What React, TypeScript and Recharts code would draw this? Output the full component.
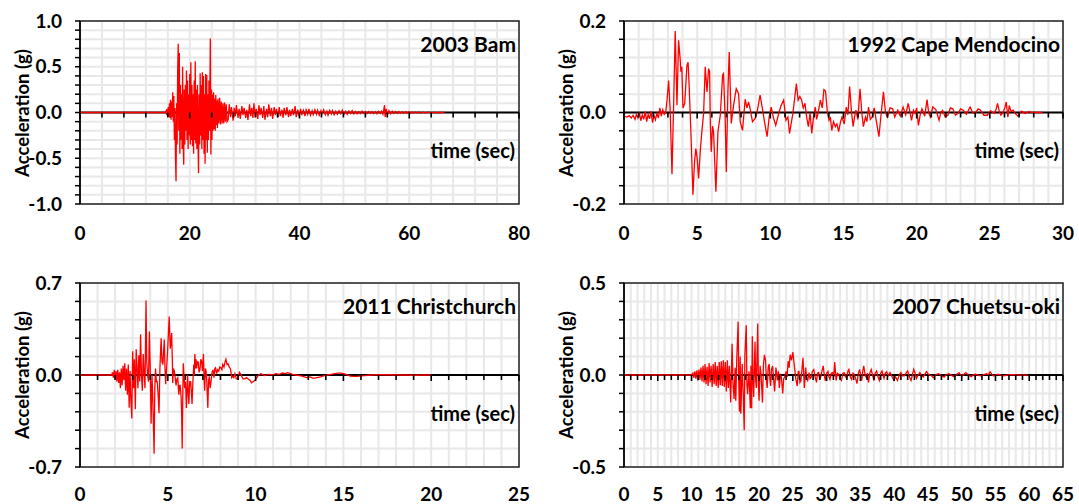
import React from 'react';
import { LineChart, Line, XAxis, YAxis, CartesianGrid, ReferenceLine, ReferenceArea } from 'recharts';

type Rec = [number, number][];

// acceleration records, [time (s), acceleration (g)]
const bamRecord: Rec = [
  [0, 0], [15.5, 0], [15.7, 0.02], [15.8, -0.03], [15.9, 0.04], [16.0, -0.04], [16.1, 0.06], [16.2, -0.05],
  [16.3, 0.1], [16.4, -0.06], [16.5, 0.14], [16.6, -0.08], [16.7, 0.12], [16.8, -0.05], [16.9, 0.22], [17.0, -0.1],
  [17.1, 0.18], [17.2, -0.3], [17.3, 0.05], [17.4, -0.5], [17.5, -0.75], [17.6, 0.1], [17.7, -0.35], [17.8, 0.45],
  [17.9, 0.75], [18.0, -0.2], [18.1, 0.65], [18.2, -0.45], [18.3, 0.3], [18.4, -0.3], [18.5, 0.2], [18.6, -0.4],
  [18.7, 0.5], [18.8, -0.3], [18.9, -0.57], [19.0, 0.25], [19.1, -0.35], [19.2, 0.3], [19.3, -0.2], [19.4, 0.46],
  [19.5, -0.3], [19.6, 0.35], [19.7, -0.4], [19.8, 0.2], [19.9, -0.25], [20.0, 0.42], [20.1, -0.35], [20.2, 0.55],
  [20.3, -0.3], [20.4, 0.3], [20.5, -0.37], [20.6, 0.2], [20.7, -0.45], [20.8, 0.35], [20.9, -0.3], [21.0, 0.56],
  [21.1, -0.34], [21.2, 0.25], [21.3, -0.4], [21.4, 0.3], [21.5, -0.3], [21.6, -0.66], [21.7, 0.2], [21.8, -0.35],
  [21.9, 0.43], [22.0, -0.25], [22.1, 0.3], [22.2, -0.4], [22.3, 0.44], [22.4, -0.3], [22.5, 0.4], [22.6, -0.45],
  [22.7, 0.2], [22.8, -0.56], [22.9, 0.42], [23.0, -0.3], [23.1, 0.41], [23.2, -0.44], [23.3, 0.2], [23.4, -0.3],
  [23.5, 0.35], [23.6, -0.2], [23.75, 0.81], [23.85, -0.46], [23.95, 0.25], [24.05, -0.3], [24.15, 0.2], [24.25, -0.2],
  [24.35, 0.22], [24.45, -0.18], [24.55, 0.15], [24.65, -0.2], [24.75, 0.19], [24.85, -0.14], [24.95, 0.13], [25.05, -0.17],
  [25.15, 0.15], [25.3, -0.12], [25.45, 0.16], [25.6, -0.13], [25.75, 0.12], [25.9, -0.12], [26.05, 0.1], [26.2, -0.12],
  [26.35, 0.11], [26.5, -0.1], [26.65, 0.09], [26.8, -0.1], [27.0, -0.08], [27.2, 0.09], [27.45, -0.05], [27.6, 0.06],
  [27.9, -0.09], [28.1, 0.05], [28.3, -0.04], [28.5, 0.08], [28.8, -0.06], [29.0, 0.04], [29.2, -0.07], [29.5, 0.07],
  [29.7, -0.03], [29.9, 0.05], [30.2, -0.06], [30.4, 0.03], [30.6, -0.08], [30.9, 0.09], [31.1, -0.04], [31.3, 0.05],
  [31.5, -0.06], [31.7, 0.1], [31.9, -0.05], [32.1, 0.04], [32.4, -0.07], [32.6, 0.08], [32.8, -0.03], [33.0, 0.05],
  [33.3, -0.06], [33.5, 0.07], [33.7, -0.08], [34.0, 0.04], [34.2, -0.05], [34.4, 0.09], [34.7, -0.04], [34.9, 0.05],
  [35.1, -0.07], [35.4, 0.06], [35.6, -0.03], [35.8, 0.04], [36.1, -0.05], [36.3, 0.06], [36.5, -0.04], [36.8, 0.03],
  [37.0, -0.06], [37.2, 0.05], [37.5, -0.03], [37.7, 0.06], [38.0, -0.05], [38.2, 0.03], [38.4, -0.04], [38.7, 0.04],
  [38.9, -0.03], [39.2, 0.07], [39.4, -0.05], [39.7, 0.03], [39.9, -0.04], [40.2, 0.04], [40.4, -0.03], [40.7, 0.025],
  [41.0, -0.04], [41.2, 0.03], [41.5, -0.02], [41.7, 0.04], [42.0, -0.03], [42.3, 0.02], [42.5, -0.025], [42.8, 0.03],
  [43.1, -0.02], [43.3, 0.025], [43.6, -0.03], [43.9, 0.02], [44.1, -0.015], [44.4, 0.03], [44.7, -0.025], [45.0, 0.015],
  [45.2, -0.03], [45.5, 0.025], [45.8, -0.015], [46.0, 0.02], [46.3, -0.025], [46.6, 0.015], [46.9, -0.02], [47.2, 0.02],
  [47.5, -0.015], [47.8, 0.025], [48.1, -0.02], [48.4, 0.012], [48.7, -0.02], [49.0, 0.015], [49.3, -0.012], [49.6, 0.02],
  [49.9, -0.015], [50.2, 0.012], [50.5, -0.015], [50.8, 0.01], [51.1, -0.012], [51.4, 0.015], [51.7, -0.01], [52.0, 0.01],
  [52.3, -0.012], [52.6, 0.012], [52.9, -0.008], [53.2, 0.012], [53.5, -0.012], [53.8, 0.01], [54.1, -0.015], [54.4, 0.012],
  [54.7, -0.01], [54.95, 0.015], [55.2, -0.02], [55.5, 0.08], [55.6, -0.05], [55.8, 0.04], [56.0, -0.03], [56.3, 0.02],
  [56.6, -0.015], [56.9, 0.015], [57.2, -0.01], [57.5, 0.012], [57.8, -0.01], [58.1, 0.01], [58.4, -0.01], [58.7, 0.008],
  [59.0, -0.01], [59.3, 0.008], [59.6, -0.008], [59.9, 0.01], [60.2, -0.008], [60.5, 0.006], [60.8, -0.006], [61.1, 0.006],
  [61.4, -0.005], [61.7, 0.005], [62.0, -0.005], [62.5, 0.004], [63.0, -0.004], [63.5, 0.003], [64.0, -0.003], [64.5, 0.002],
  [65.0, -0.002], [65.5, 0.001], [66.4, 0],
];

const capeMendocinoRecord: Rec = [
  [0, -0.008], [0.2, -0.01], [0.35, -0.007], [0.5, -0.012], [0.62, -0.006], [0.75, -0.015], [0.85, -0.004], [0.95, -0.012],
  [1.05, 0.0], [1.15, -0.018], [1.25, -0.005], [1.35, -0.015], [1.45, 0.002], [1.55, -0.02], [1.65, -0.004], [1.75, -0.014],
  [1.85, 0.003], [1.95, -0.022], [2.05, -0.006], [2.15, -0.016], [2.25, -0.002], [2.35, -0.012], [2.45, 0.01], [2.55, -0.008],
  [2.65, 0.006], [2.75, -0.004], [2.85, 0.0], [2.95, 0.03], [3.05, 0.07], [3.15, 0.01], [3.28, -0.135], [3.4, 0.03],
  [3.5, 0.178], [3.62, 0.016], [3.73, 0.158], [3.83, 0.12], [3.89, 0.089], [3.95, 0.1], [4.03, 0.01], [4.15, 0.02],
  [4.3, 0.103], [4.38, 0.11], [4.45, 0.06], [4.58, -0.05], [4.71, -0.18], [4.82, -0.108], [4.91, -0.079], [5.0, -0.1],
  [5.1, -0.144], [5.22, -0.08], [5.32, -0.042], [5.44, -0.002], [5.55, 0.1], [5.67, 0.045], [5.78, 0.096], [5.85, 0.089],
  [5.9, -0.024], [5.96, -0.086], [6.05, -0.03], [6.12, -0.042], [6.28, -0.173], [6.42, -0.042], [6.58, -0.006], [6.74, 0.082],
  [6.8, 0.085], [6.92, -0.02], [6.99, -0.13], [7.1, 0.045], [7.19, 0.132], [7.33, -0.024], [7.49, 0.016], [7.67, 0.052],
  [7.83, 0.041], [7.94, -0.02], [8.1, -0.039], [8.28, 0.029], [8.4, 0.01], [8.51, 0.023], [8.62, 0.008], [8.78, -0.02],
  [8.96, -0.013], [9.08, -0.002], [9.3, 0.038], [9.45, 0.01], [9.6, -0.02], [9.78, -0.053], [9.92, -0.01], [10.06, 0.012],
  [10.2, -0.01], [10.37, -0.028], [10.55, -0.005], [10.72, 0.014], [10.91, 0.027], [11.07, -0.017], [11.2, -0.01], [11.31, -0.046],
  [11.54, -0.002], [11.66, 0.03], [11.78, 0.063], [11.9, 0.027], [12.02, 0.035], [12.13, 0.028], [12.25, 0.01], [12.37, 0.02],
  [12.48, -0.01], [12.6, -0.031], [12.72, 0.0], [12.83, -0.046], [12.95, -0.01], [13.07, 0.012], [13.16, -0.015], [13.26, -0.002],
  [13.42, 0.027], [13.55, 0.01], [13.66, 0.05], [13.77, 0.047], [13.9, 0.0], [14.01, -0.017], [14.1, -0.01], [14.2, -0.039],
  [14.32, -0.02], [14.44, -0.031], [14.55, -0.025], [14.67, -0.042], [14.8, -0.02], [14.9, -0.01], [15.05, -0.025], [15.19, 0.012],
  [15.3, -0.005], [15.42, 0.057], [15.55, 0.0], [15.66, -0.031], [15.75, -0.01], [15.85, 0.005], [15.98, -0.015], [16.13, 0.052],
  [16.25, 0.0], [16.36, -0.031], [16.5, -0.01], [16.6, -0.02], [16.71, 0.012], [16.83, -0.015], [16.95, -0.01], [17.1, 0.01],
  [17.25, -0.02], [17.42, -0.053], [17.58, 0.0], [17.73, 0.045], [17.87, 0.0], [18.01, -0.01], [18.18, 0.01], [18.36, 0.008],
  [18.5, -0.01], [18.71, 0.005], [18.88, -0.008], [19.07, 0.012], [19.25, -0.005], [19.42, 0.02], [19.55, 0.0], [19.65, -0.017],
  [19.78, 0.005], [19.89, -0.002], [20.0, 0.01], [20.12, -0.028], [20.24, -0.005], [20.36, 0.008], [20.55, -0.008], [20.71, 0.028],
  [20.82, 0.0], [20.94, -0.01], [21.1, 0.012], [21.3, 0.007], [21.42, -0.005], [21.53, -0.017], [21.65, 0.0], [21.77, 0.005],
  [21.95, -0.01], [22.13, -0.006], [22.3, 0.01], [22.47, 0.008], [22.65, -0.006], [22.83, -0.002], [23.0, 0.008], [23.18, 0.005],
  [23.4, -0.004], [23.65, 0.012], [23.82, 0.0], [24.0, -0.002], [24.2, 0.008], [24.36, 0.005], [24.6, -0.006], [24.83, -0.006],
  [25.05, 0.004], [25.29, -0.002], [25.42, 0.006], [25.53, 0.02], [25.65, 0.002], [25.76, -0.006], [25.9, 0.0], [26.04, 0.012],
  [26.12, 0.023], [26.23, -0.01], [26.33, 0.015], [26.45, 0.002], [26.59, 0.005], [26.75, -0.003], [26.94, -0.008], [27.15, 0.003],
  [27.41, -0.002], [27.65, 0.002], [27.88, 0], [28.59, 0],
];

const christchurchRecord: Rec = [
  [0, 0], [1.8, 0], [1.85, 0.02], [1.9, -0.02], [1.95, 0.04], [2.0, -0.03], [2.05, 0.03], [2.1, -0.05],
  [2.15, 0.04], [2.2, -0.06], [2.25, 0.02], [2.3, -0.1], [2.35, 0.05], [2.4, -0.08], [2.45, 0.07], [2.5, -0.04],
  [2.55, 0.09], [2.6, -0.12], [2.65, 0.05], [2.7, -0.15], [2.75, 0.08], [2.8, -0.25], [2.85, 0.03], [2.9, -0.2],
  [2.95, -0.33], [3.0, 0.18], [3.05, -0.1], [3.1, 0.12], [3.15, -0.26], [3.2, 0.195], [3.25, 0.05], [3.3, -0.1],
  [3.35, 0.15], [3.4, -0.05], [3.45, 0.31], [3.5, 0.0], [3.55, -0.12], [3.6, 0.16], [3.65, 0.02], [3.7, -0.1],
  [3.76, 0.566], [3.8, 0.1], [3.85, 0.0], [3.9, -0.05], [3.95, 0.33], [4.0, 0.05], [4.05, -0.37], [4.1, 0.0],
  [4.15, -0.2], [4.22, -0.6], [4.26, -0.1], [4.3, 0.05], [4.35, -0.05], [4.4, -0.05], [4.45, -0.15], [4.5, -0.29],
  [4.55, 0.05], [4.62, 0.28], [4.67, 0.1], [4.72, 0.08], [4.77, 0.2], [4.8, 0.27], [4.84, 0.05], [4.88, -0.07],
  [4.93, 0.05], [4.98, 0.16], [5.03, 0.3], [5.08, 0.445], [5.14, 0.2], [5.18, 0.25], [5.22, 0.32], [5.26, 0.1],
  [5.28, -0.06], [5.32, 0.05], [5.37, 0.03], [5.42, -0.02], [5.47, -0.08], [5.52, -0.03], [5.57, -0.02], [5.6, -0.1],
  [5.63, -0.15], [5.67, -0.08], [5.7, -0.08], [5.73, -0.12], [5.76, -0.17], [5.79, -0.3], [5.82, -0.56], [5.85, -0.2],
  [5.88, 0.09], [5.92, 0.0], [5.96, -0.1], [6.01, -0.05], [6.06, -0.25], [6.1, -0.1], [6.13, 0.0], [6.17, -0.15],
  [6.2, -0.22], [6.25, -0.05], [6.3, -0.05], [6.34, -0.12], [6.38, -0.22], [6.43, -0.05], [6.48, 0.08], [6.51, 0.0],
  [6.54, 0.16], [6.58, 0.05], [6.61, 0.12], [6.64, 0.05], [6.68, 0.1], [6.73, 0.1], [6.78, 0.02], [6.83, 0.04],
  [6.88, 0.12], [6.93, 0.1], [6.97, 0.03], [7.03, 0.16], [7.06, 0.0], [7.1, -0.12], [7.14, 0.05], [7.18, 0.03],
  [7.22, -0.05], [7.28, -0.25], [7.32, -0.05], [7.36, -0.01], [7.41, -0.1], [7.46, -0.05], [7.52, 0.02], [7.58, 0.04],
  [7.63, -0.02], [7.68, 0.05], [7.72, 0.055], [7.78, 0.01], [7.84, 0.04], [7.9, 0.03], [7.96, 0.06], [8.02, 0.055],
  [8.08, 0.04], [8.13, 0.08], [8.2, 0.06], [8.26, 0.1], [8.31, 0.12], [8.37, 0.08], [8.44, 0.085], [8.5, 0.06],
  [8.56, 0.05], [8.6, 0.02], [8.64, -0.02], [8.7, -0.01], [8.76, -0.02], [8.82, 0.01], [8.9, -0.03], [8.99, -0.03],
  [9.08, 0.02], [9.18, 0.0], [9.28, -0.03], [9.38, -0.03], [9.48, -0.02], [9.58, -0.03], [9.68, -0.04], [9.77, -0.06],
  [9.87, -0.05], [9.97, -0.04], [10.07, -0.02], [10.17, 0.0], [10.3, 0.01], [10.5, -0.005], [10.75, 0.005], [11.0, 0.0],
  [11.14, 0.01], [11.35, 0.005], [11.53, 0.015], [11.7, 0.01], [11.83, 0.018], [12.0, 0.01], [12.1, 0.005], [12.3, 0.0],
  [12.5, -0.005], [12.7, -0.01], [12.9, -0.02], [13.1, -0.015], [13.3, -0.025], [13.5, -0.02], [13.7, -0.015], [13.9, -0.005],
  [14.1, 0.0], [14.3, 0.005], [14.5, 0.01], [14.7, 0.015], [14.86, 0.015], [15.0, 0.01], [15.15, 0.005], [15.4, -0.008],
  [15.6, -0.01], [15.8, -0.01], [16.0, -0.006], [16.2, -0.005], [16.6, 0.0], [17.0, 0.003], [17.5, 0.002], [18.0, 0.0],
  [18.5, 0.0], [19.0, -0.002], [19.5, 0.0], [20.0, 0.0],
];

const chuetsuOkiRecord: Rec = [
  [0, 0], [10.0, 0], [10.2, 0.01], [10.35, -0.015], [10.5, 0.02], [10.65, -0.02], [10.8, 0.025], [10.95, -0.03],
  [11.1, 0.03], [11.25, -0.025], [11.4, 0.04], [11.55, -0.035], [11.7, 0.05], [11.85, -0.04], [12.0, 0.06], [12.15, -0.05],
  [12.3, 0.045], [12.45, -0.06], [12.6, 0.065], [12.75, -0.04], [12.9, 0.05], [13.05, -0.065], [13.2, 0.06], [13.35, -0.05],
  [13.5, 0.07], [13.65, -0.06], [13.8, 0.05], [13.95, -0.07], [14.1, 0.07], [14.25, -0.055], [14.4, 0.075], [14.55, -0.06],
  [14.7, 0.08], [14.85, -0.065], [15.0, 0.07], [15.15, -0.09], [15.3, 0.08], [15.45, -0.07], [15.6, 0.05], [15.8, -0.15],
  [16.0, 0.17], [16.15, -0.05], [16.3, -0.13], [16.45, 0.04], [16.55, -0.14], [16.7, 0.09], [16.9, 0.29], [17.0, -0.05],
  [17.1, -0.2], [17.2, 0.1], [17.3, -0.21], [17.5, 0.06], [17.65, -0.1], [17.8, -0.3], [17.9, 0.11], [18.1, 0.27],
  [18.2, -0.05], [18.3, -0.105], [18.5, 0.02], [18.6, -0.08], [18.7, -0.18], [18.8, 0.05], [18.9, -0.18], [19.0, 0.21],
  [19.1, -0.02], [19.2, -0.12], [19.4, 0.18], [19.5, -0.03], [19.6, -0.07], [19.7, 0.1], [19.8, 0.28], [19.9, -0.05],
  [20.0, -0.14], [20.15, 0.05], [20.3, 0.0], [20.5, -0.15], [20.65, 0.06], [20.8, 0.11], [20.95, 0.08], [21.1, -0.03],
  [21.2, -0.07], [21.35, 0.04], [21.5, 0.06], [21.6, -0.02], [21.7, -0.06], [21.85, 0.03], [22.0, 0.05], [22.15, -0.02],
  [22.3, -0.09], [22.5, 0.04], [22.7, -0.03], [22.85, 0.02], [23.0, -0.07], [23.15, 0.0], [23.3, -0.01], [23.5, -0.1],
  [23.65, -0.02], [23.8, -0.01], [24.0, 0.02], [24.15, -0.01], [24.3, 0.075], [24.45, 0.04], [24.6, 0.11], [24.8, 0.08],
  [25.0, 0.125], [25.25, 0.04], [25.45, -0.024], [25.65, -0.06], [25.8, 0.02], [25.9, 0.02], [26.05, -0.04], [26.2, -0.03],
  [26.35, 0.03], [26.5, 0.094], [26.7, -0.07], [26.9, 0.04], [27.05, -0.02], [27.2, -0.03], [27.4, 0.013], [27.55, -0.02],
  [27.7, -0.015], [27.9, 0.02], [28.1, 0.03], [28.3, -0.01], [28.5, -0.04], [28.65, 0.01], [28.8, 0.013], [28.95, -0.02],
  [29.1, -0.015], [29.3, 0.02], [29.5, 0.05], [29.65, 0.0], [29.8, -0.03], [30.0, 0.01], [30.2, 0.02], [30.35, -0.01],
  [30.5, -0.024], [30.7, 0.01], [30.9, 0.013], [31.05, -0.01], [31.2, 0.07], [31.4, -0.03], [31.6, 0.01], [31.8, 0.004],
  [32.0, -0.02], [32.2, -0.03], [32.4, 0.01], [32.6, 0.013], [32.8, -0.01], [33.0, -0.015], [33.15, 0.02], [33.3, 0.03],
  [33.5, -0.01], [33.7, -0.024], [33.9, 0.01], [34.1, 0.004], [34.3, -0.02], [34.5, -0.047], [34.7, 0.01], [34.9, 0.03],
  [35.05, -0.01], [35.2, -0.03], [35.35, 0.02], [35.5, 0.05], [35.7, 0.0], [35.9, -0.015], [36.05, 0.01], [36.2, -0.04],
  [36.4, 0.01], [36.6, 0.03], [36.8, 0.0], [37.0, -0.03], [37.2, 0.01], [37.4, 0.022], [37.6, -0.01], [37.8, -0.029],
  [38.0, 0.01], [38.2, 0.022], [38.35, 0.0], [38.5, -0.018], [38.7, 0.01], [38.9, 0.018], [39.1, -0.005], [39.4, 0.013],
  [39.7, -0.01], [39.95, -0.029], [40.2, -0.01], [40.5, -0.029], [40.75, 0.0], [41.0, 0.013], [41.25, -0.005], [41.5, -0.005],
  [41.75, 0.01], [42.0, 0.022], [42.25, -0.01], [42.5, -0.03], [42.7, 0.0], [42.9, 0.031], [43.1, 0.01], [43.3, -0.018],
  [43.55, 0.0], [43.8, 0.013], [44.05, -0.005], [44.3, -0.011], [44.55, 0.005], [44.8, 0.018], [45.05, 0.005], [45.3, 0.0],
  [45.55, -0.005], [45.8, -0.015], [46.2, 0.002], [46.6, 0.007], [47.0, -0.005], [47.4, -0.011], [47.75, 0.003], [48.1, 0.007],
  [48.5, -0.002], [48.9, -0.011], [49.25, 0.003], [49.6, 0.013], [49.85, 0.0], [50.1, -0.005], [50.35, 0.004], [50.6, 0.013],
  [51.0, 0.0], [51.4, -0.009], [51.75, 0.002], [52.1, 0.004], [52.5, -0.002], [52.9, -0.004], [53.3, 0.002], [53.7, 0.007],
  [53.95, 0.0], [54.2, 0.018], [54.45, 0.005], [54.7, -0.005], [55.05, 0.0], [55.4, 0.004], [55.8, -0.001], [56.2, -0.004],
  [57.0, 0.001], [57.7, 0.002], [58.5, -0.001], [59.8, 0.0],
];

// labelled ticks
const bamXLabels = [0, 20, 40, 60, 80];
const capeXLabels = [0, 5, 10, 15, 20, 25, 30];
const christchurchXLabels = [0, 5, 10, 15, 20, 25];
const chuetsuXLabels = [0, 5, 10, 15, 20, 25, 30, 35, 40, 45, 50, 55, 60, 65];

const bamYLabels = [-1, -0.5, 0, 0.5, 1];
const capeYLabels = [-0.2, 0, 0.2];
const christchurchYLabels = [-0.7, 0, 0.7];
const chuetsuYLabels = [-0.5, 0, 0.5];

const FONT = 'Lato, "Open Sans", sans-serif';

const range = (lo: number, hi: number, step: number) => {
  const out: number[] = [];
  const n = Math.round((hi - lo) / step);
  for (let i = 0; i <= n; i++) out.push(Math.round((lo + i * step) * 1e6) / 1e6);
  return out;
};

const isLabel = (labels: number[], v: number) => labels.some((l) => Math.abs(l - v) < 1e-6);

interface PanelProps {
  title: string;
  record: Rec;
  xLabels: number[];
  xStep: number;
  yLabels: number[];
  yStep: number;
  left: number;
  top: number;
  plotHeight: number;
  labelGap: number;
}

const CHART_W = 560;
const CHART_H = 262;
const PLOT_W = 439;
const M_TOP = 21;
const Y_AXIS_W = 80;

function Panel({ title, record, xLabels, xStep, yLabels, yStep, left, top, plotHeight, labelGap }: PanelProps) {
  const data = record.map(([t, a]) => ({ t, a }));
  const xMax = xLabels[xLabels.length - 1];
  const yMax = yLabels[yLabels.length - 1];
  const xTicks = range(0, xMax, xStep);
  const yTicks = range(-yMax, yMax, yStep);
  const marginRight = CHART_W - Y_AXIS_W - PLOT_W;
  const xAxisH = CHART_H - M_TOP - plotHeight;
  const plotRight = Y_AXIS_W + PLOT_W;
  const zeroY = M_TOP + plotHeight / 2;

  const textStyle = { fontFamily: FONT, fontWeight: 700, fill: '#000' };

  return (
    <div style={{ position: 'absolute', left, top, width: CHART_W, height: CHART_H }}>
      <LineChart width={CHART_W} height={CHART_H} data={data} margin={{ top: M_TOP, right: marginRight, bottom: 0, left: 0 }}>
        <CartesianGrid stroke="#e8e8e8" strokeWidth={2} />
        <XAxis
          type="number"
          dataKey="t"
          domain={[0, xMax]}
          ticks={xTicks}
          interval={0}
          allowDataOverflow
          height={xAxisH}
          axisLine={false}
          tickLine={false}
          tickSize={0}
          tickMargin={0}
          tick={(p: any) => {
            const v = p.payload.value;
            const major = isLabel(xLabels, v);
            const zy = p.y - plotHeight / 2;
            return (
              <g>
                <line x1={p.x} x2={p.x} y1={zy} y2={zy + (major ? 6 : 5)} stroke="#000" strokeWidth={1.6} />
                {major && (
                  <text x={p.x} y={p.y + labelGap} dy="0.35em" textAnchor="middle" fontSize={19} style={textStyle}>
                    {v}
                  </text>
                )}
              </g>
            );
          }}
        />
        <YAxis
          type="number"
          domain={[-yMax, yMax]}
          ticks={yTicks}
          interval={0}
          allowDataOverflow
          width={Y_AXIS_W}
          axisLine={{ stroke: '#000', strokeWidth: 1.5 }}
          tickLine={{ stroke: '#000', strokeWidth: 1.5 }}
          tickSize={5}
          tickMargin={13}
          tick={(p: any) => {
            const v = p.payload.value;
            if (!isLabel(yLabels, v)) return <g />;
            return (
              <text x={p.x} y={p.y} dy="0.35em" textAnchor="end" fontSize={19} style={textStyle}>
                {v.toFixed(1)}
              </text>
            );
          }}
        />
        <ReferenceLine y={0} stroke="#000" strokeWidth={2.2} />
        <ReferenceArea x1={0} x2={xMax} y1={-yMax} y2={yMax} fill="none" stroke="#222" strokeWidth={1.5} />
        <Line
          type="linear"
          dataKey="a"
          stroke="#ff0000"
          strokeWidth={1.3}
          dot={false}
          activeDot={false}
          isAnimationActive={false}
        />
      </LineChart>
      <div
        style={{
          position: 'absolute', left: 21.7, top: zeroY, transform: 'translate(-50%, -50%) rotate(-90deg)',
          whiteSpace: 'nowrap', fontFamily: FONT, fontWeight: 700, fontSize: 18.5, lineHeight: '22px', color: '#000',
        }}
      >
        Acceleration (g)
      </div>
      <div
        style={{
          position: 'absolute', right: CHART_W - plotRight + 3, top: M_TOP + 22.5, transform: 'translateY(-50%)',
          whiteSpace: 'nowrap', fontFamily: FONT, fontWeight: 700, fontSize: 21, lineHeight: '24px', color: '#000',
        }}
      >
        {title}
      </div>
      <div
        style={{
          position: 'absolute', right: CHART_W - plotRight + 4, top: zeroY + 37.5, transform: 'translateY(-50%)',
          whiteSpace: 'nowrap', fontFamily: FONT, fontWeight: 700, fontSize: 20, lineHeight: '24px', color: '#000',
        }}
      >
        time (sec)
      </div>
    </div>
  );
}

export default function App() {
  return (
    <div style={{ position: 'fixed', left: 0, top: 0, width: 1079, height: 504, background: '#fff', overflow: 'hidden' }}>
      <Panel title="2003 Bam" record={bamRecord} xLabels={bamXLabels} xStep={4} yLabels={bamYLabels} yStep={0.1}
        left={0} top={0} plotHeight={183} labelGap={29} />
      <Panel title="1992 Cape Mendocino" record={capeMendocinoRecord} xLabels={capeXLabels} xStep={1} yLabels={capeYLabels} yStep={0.04}
        left={544} top={0} plotHeight={183} labelGap={29} />
      <Panel title="2011 Christchurch" record={christchurchRecord} xLabels={christchurchXLabels} xStep={1} yLabels={christchurchYLabels} yStep={0.14}
        left={0} top={262} plotHeight={184} labelGap={27.5} />
      <Panel title="2007 Chuetsu-oki" record={chuetsuOkiRecord} xLabels={chuetsuXLabels} xStep={1} yLabels={chuetsuYLabels} yStep={0.1}
        left={544} top={262} plotHeight={184} labelGap={27.5} />
    </div>
  );
}
